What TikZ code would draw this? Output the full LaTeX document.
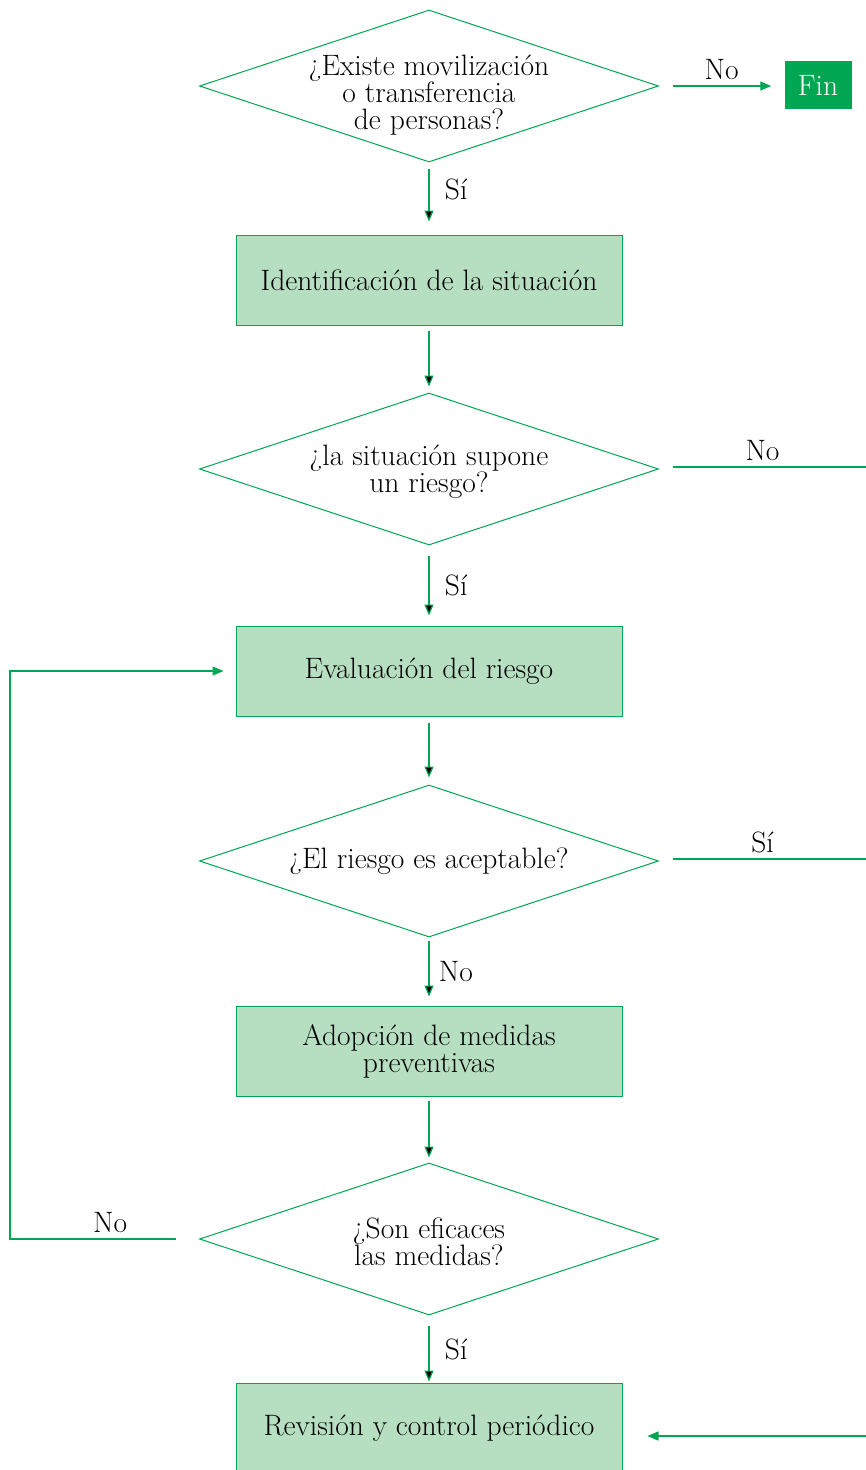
\documentclass[tikz,border=0pt]{standalone}
\usepackage{fontspec}
\usepackage{tikz}
\usetikzlibrary{shapes.geometric,arrows.meta}
\definecolor{verde}{RGB}{0,166,81}
\definecolor{verdeclaro}{RGB}{182,222,192}
\tikzstyle{block} = [rectangle, draw=verde, fill=verdeclaro, line width=1pt, minimum width=386pt, minimum height=90pt, align=center]
\tikzstyle{decision} = [diamond, draw=verde, line width=1pt, minimum width=459pt, minimum height=152pt, inner sep=0pt]
\tikzstyle{fin} = [rectangle, fill=verde, text=white, minimum width=67pt, minimum height=48pt]
\tikzstyle{line} = [draw=verde, line width=1.2pt]
\tikzstyle{flow} = [line, -{Triangle[length=11pt,width=9pt]}]

\begin{document}
\begin{tikzpicture}[font=\fontsize{29.5}{27}\selectfont]
  \useasboundingbox (0pt,0pt) rectangle (866pt,-1470pt);
  \draw (429pt,-86pt) node[decision, label={[align=center, yshift=-9pt]center:{¿Existe movilización\\o transferencia\\de personas?}}](0){};
  \draw (429pt,-280pt) node[block](1){Identificación de la situación};
  \draw (429pt,-469pt) node[decision, label={[align=center, yshift=-3pt]center:{¿la situación supone\\un riesgo?}}](2){};
  \draw (429pt,-671pt) node[block](3){Evaluación del riesgo};
  \draw (429pt,-861pt) node[decision, label={[align=center]center:{¿El riesgo es aceptable?}}](4){};
  \draw (429pt,-1051pt) node[block](5){Adopción de medidas\\preventivas};
  \draw (429pt,-1239pt) node[decision, label={[align=center, yshift=-3pt]center:{¿Son eficaces\\las medidas?}}](6){};
  \draw (429pt,-1428pt) node[block](7){Revisión y control periódico};
  \draw (818pt,-85pt) node[fin](fin){Fin};
  \coordinate (r2) at (866pt,-467pt);
  \coordinate (r4) at (866pt,-859pt);
  \coordinate (r7) at (866pt,-1436pt);
  \coordinate (lft) at (10pt,-1239pt);
  % main column
  \path[flow, shorten <=6pt, shorten >=13pt] (0) edge node[right=12pt, pos=0.38]{Sí}(1);
  \path[flow, shorten <=5pt, shorten >=6pt] (1) edge (2);
  \path[flow, shorten <=10pt, shorten >=10pt] (2) edge node[right=12pt]{Sí}(3);
  \path[flow, shorten <=6pt, shorten >=7pt] (3) edge (4);
  \path[flow, shorten <=3pt, shorten >=9pt] (4) edge node[right=6pt]{No}(5);
  \path[flow, shorten <=4pt, shorten >=5pt] (5) edge (6);
  \path[flow, shorten <=10pt, shorten >=1pt] (6) edge node[right=12pt]{Sí}(7);
  % side branches
  \draw[flow, shorten <=14pt, shorten >=13pt] (0.east) -- node[above=2pt]{No} (0.east -| fin.west);
  \draw[line, shorten <=14pt] (2.east |- r2) -- node[above=2pt]{No} (r2);
  \draw[line, shorten <=14pt] (4.east |- r4) -- node[above=2pt]{Sí} (r4);
  \draw[flow, shorten >=25pt] (r7) -- (7.east |- r7);
  \draw[flow, shorten <=23pt, shorten >=12pt] (6.west) -- node[above=2pt, pos=0.47]{No} (lft) |- (3.west);
\end{tikzpicture}
\end{document}
